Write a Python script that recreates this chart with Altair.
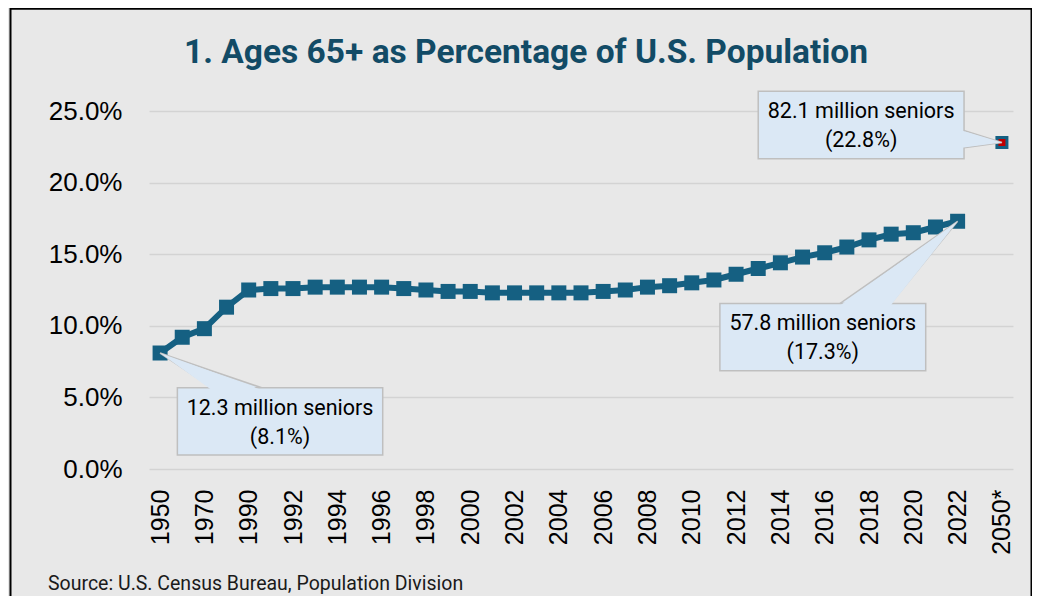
import json
import altair as alt
import pandas as pd

# ---------------- text ----------------
TITLE = "1. Ages 65+ as Percentage of U.S. Population"
SOURCE = "Source: U.S. Census Bureau, Population Division"

# ---------------- data ----------------
categories = ["1950", "1960", "1970", "1980"] + [str(y) for y in range(1990, 2023)] + ["", "2050*"]

hist_years = categories[:37]
hist_pct = [8.1, 9.2, 9.8, 11.3,
            12.5, 12.6, 12.6, 12.7, 12.7, 12.7, 12.7, 12.6, 12.5, 12.4,
            12.4, 12.3, 12.3, 12.3, 12.3, 12.3, 12.4, 12.5, 12.7, 12.8,
            13.0, 13.2, 13.6, 14.0, 14.4, 14.8, 15.1, 15.5, 16.0, 16.4,
            16.5, 16.9, 17.3]

proj_year = "2050*"
proj_pct = 22.8

y_ticks = [0, 5, 10, 15, 20, 25]

i1950 = categories.index("1950")
i2022 = categories.index("2022")
i2050 = categories.index(proj_year)

# callouts (box extents and pointer base in data units)
callouts = [
    {"id": "c1", "lines": ["12.3 million seniors", "(8.1%)"],
     "x0": 0.78, "x1": 10.05, "top": 5.67, "bottom": 0.98,
     "base": [(2.33, 5.67), (4.59, 5.67)], "tip": (i1950, hist_pct[i1950]), "side": "top"},
    {"id": "c2", "lines": ["57.8 million seniors", "(17.3%)"],
     "x0": 25.27, "x1": 34.56, "top": 11.56, "bottom": 6.86,
     "base": [(30.69, 11.56), (32.98, 11.56)], "tip": (i2022, hist_pct[i2022]), "side": "top"},
    {"id": "c3", "lines": ["82.1 million seniors", "(22.8%)"],
     "x0": 27.0, "x1": 36.29, "top": 26.38, "bottom": 21.67,
     "base": [(36.29, 23.64), (36.29, 22.43)], "tip": (i2050, proj_pct), "side": "right"},
]

# ---------------- styles ----------------
BG = "#e8e8e8"
BLUE = "#156082"
RED = "#c00000"
TITLE_COLOR = "#124b66"
BOX_FILL = "#dbe8f5"
BOX_STROKE = "#bfbfbf"
GRID = "#d3d3d3"

W, H = 864, 358
PAD = {"left": 141, "top": 103, "right": 19, "bottom": 127}


def tri_rows(pts, cid):
    xs = sorted(set(round(p[0], 6) for p in pts))
    edges = [(pts[i], pts[(i + 1) % 3]) for i in range(3)]
    rows = []
    for x in xs:
        ys = []
        for (ax, ay), (bx, by) in edges:
            if abs(bx - ax) < 1e-9:
                if abs(x - ax) < 1e-6:
                    ys += [ay, by]
            elif min(ax, bx) - 1e-6 <= x <= max(ax, bx) + 1e-6:
                t = (x - ax) / (bx - ax)
                ys.append(ay + t * (by - ay))
        rows.append({"id": cid, "x": x, "y": min(ys), "y2": max(ys)})
    return rows


tri_stroke_rows, tri_fill_rows, box_rows, text_rows = [], [], [], []
for c in callouts:
    pts = [c["base"][0], c["base"][1], c["tip"]]
    tri_stroke_rows += tri_rows(pts, c["id"])
    if c["side"] == "top":
        inner = [(c["base"][0][0], c["base"][0][1] - 0.15), (c["base"][1][0], c["base"][1][1] - 0.15), c["tip"]]
    else:
        inner = [(c["base"][0][0] - 0.1, c["base"][0][1]), (c["base"][1][0] - 0.1, c["base"][1][1]), c["tip"]]
    tri_fill_rows += tri_rows(inner, c["id"])
    box_rows.append({"id": c["id"], "x0": c["x0"], "x1": c["x1"], "top": c["top"], "bottom": c["bottom"]})
    cx = (c["x0"] + c["x1"]) / 2
    text_rows.append({"x": cx, "y": c["top"] - 1.883, "t": c["lines"][0]})
    text_rows.append({"x": cx, "y": c["top"] - 3.905, "t": c["lines"][1]})

hist_df = pd.DataFrame({"x": list(range(len(hist_pct))), "y": hist_pct, "cat": hist_years})
proj_df = pd.DataFrame({"x": [i2050], "y": [proj_pct], "cat": [proj_year]})

X_SCALE = alt.Scale(domain=[-0.5, len(categories) - 0.5], nice=False, zero=False)
Y_SCALE = alt.Scale(domain=[0, 25], nice=False, zero=True)

label_expr = json.dumps(categories) + "[datum.value]"

x_axis = alt.Axis(values=list(range(0, len(categories), 2)), labelExpr=label_expr,
                  labelAngle=270, labelAlign="right", labelBaseline="middle",
                  labelPadding=20, ticks=False, tickSize=0, domain=False, grid=False,
                  title=None, labelFont="Liberation Sans", labelFontSize=25,
                  labelColor="#000000", labelOverlap=False, labelFlush=False)
y_axis = alt.Axis(values=y_ticks, labelExpr="format(datum.value, '.1f') + '%'",
                  ticks=False, tickSize=0, domain=False, grid=True, gridColor=GRID,
                  gridWidth=1.5, title=None, labelFont="Liberation Sans", labelFontSize=26,
                  labelPadding=27, labelColor="#000000", labelFlush=False, labelOverlap=False)


def X(field):
    return alt.X(field, scale=X_SCALE, axis=x_axis)


def Y(field):
    return alt.Y(field, scale=Y_SCALE, axis=y_axis)


one = pd.DataFrame({"k": [0]})

frame = alt.Chart(one).mark_rect(fillOpacity=0, stroke="#000000", strokeWidth=2).encode(
    x=alt.value(-138.5), x2=alt.value(882.5), y=alt.value(-102.2), y2=alt.value(560))

line = alt.Chart(hist_df).mark_line(color=BLUE, strokeWidth=6).encode(
    x=X("x:Q"), y=Y("y:Q"))

pts = alt.Chart(hist_df).mark_square(size=225, color=BLUE, opacity=1).encode(
    x=X("x:Q"), y=Y("y:Q"))

proj = alt.Chart(proj_df).mark_square(size=100, fill=RED, stroke=BLUE, strokeWidth=3, opacity=1).encode(
    x=X("x:Q"), y=Y("y:Q"))

tri_s = alt.Chart(pd.DataFrame(tri_stroke_rows)).mark_area(
    fill=BOX_FILL, stroke=BOX_STROKE, strokeWidth=1.5, opacity=1, interpolate="linear").encode(
    x=X("x:Q"), y=Y("y:Q"), y2="y2:Q", detail="id:N")

boxes = alt.Chart(pd.DataFrame(box_rows)).mark_rect(
    fill=BOX_FILL, stroke=BOX_STROKE, strokeWidth=1.5).encode(
    x=X("x0:Q"), x2="x1:Q", y=Y("top:Q"), y2="bottom:Q")

tri_f = alt.Chart(pd.DataFrame(tri_fill_rows)).mark_area(
    fill=BOX_FILL, strokeWidth=0, opacity=1, interpolate="linear").encode(
    x=X("x:Q"), y=Y("y:Q"), y2="y2:Q", detail="id:N")

texts = alt.Chart(pd.DataFrame(text_rows)).mark_text(
    font="Roboto", fontSize=21.5, color="#000000", align="center", baseline="alphabetic").encode(
    x=X("x:Q"), y=Y("y:Q"), text="t:N")

title = alt.Chart(pd.DataFrame({"t": [TITLE]})).mark_text(
    font="Roboto", fontSize=33.5, fontWeight="bold", color=TITLE_COLOR,
    align="center", baseline="alphabetic").encode(
    x=alt.value(377), y=alt.value(-48.3), text="t:N")

source = alt.Chart(pd.DataFrame({"t": [SOURCE]})).mark_text(
    font="Roboto", fontSize=19.5, color="#1a1a1a", align="left", baseline="alphabetic").encode(
    x=alt.value(-101), y=alt.value(479), text="t:N")

chart = alt.layer(line, frame, pts, proj, tri_s, boxes, tri_f, texts, title, source).properties(
    width=W, height=H, autosize=alt.AutoSizeParams(type="none"), padding=PAD,
).configure(background=BG).configure_view(stroke=None)

chart.save("out.html", embed_options={"renderer": "svg", "actions": False})
